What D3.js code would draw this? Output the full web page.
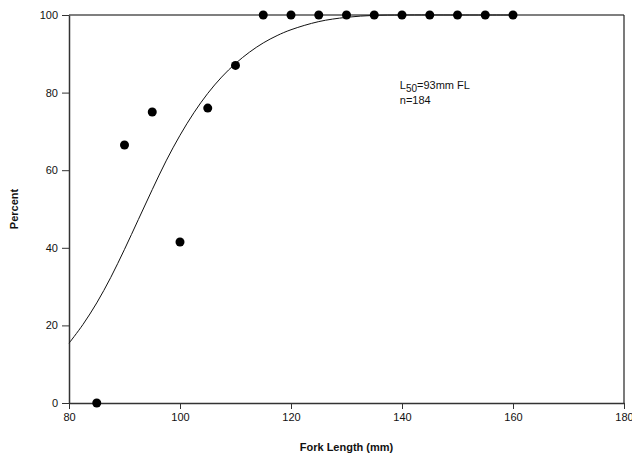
<!DOCTYPE html>
<html>
<head>
<meta charset="utf-8">
<script src="https://cdn.jsdelivr.net/npm/d3@7"></script>
<style>
  body { margin: 0; background: #fff; }
  text { font-family: Arial, "Liberation Sans", sans-serif; }
</style>
</head>
<body>
<svg class="chart"></svg>
<script>
// observed maturity by fork length
var obsLength = [85, 90, 95, 100, 105, 110, 115, 120, 125, 130, 135, 140, 145, 150, 155, 160];
var obsPercent = [0, 66.5, 75, 41.5, 76, 87, 100, 100, 100, 100, 100, 100, 100, 100, 100, 100];

// fitted curve
var fitLength = [80, 82.5, 85, 87.5, 90, 92.5, 95, 97.5, 100, 102.5, 105, 107.5, 110, 112.5, 115, 117.5, 120, 125, 130, 135, 140, 150, 160];
var fitPercent = [15.4, 20.2, 25.8, 32.3, 39.6, 47.3, 55, 62.4, 69, 74.8, 79.8, 84, 87.5, 90.4, 92.8, 94.7, 96.2, 98.3, 99.4, 99.9, 100, 100, 100];

var xTicks = [80, 100, 120, 140, 160, 180];
var yTicks = [0, 20, 40, 60, 80, 100];

(function show() {
    'use strict';

    var margin = { top: 15, bottom: 59, right: 8, left: 69 },
        width = 632 - margin.left - margin.right,
        height = 462 - margin.top - margin.bottom;

    var svg = d3.select(".chart")
        .attr("width", 632)
        .attr("height", 462);

    var chart = svg.append("g")
        .attr("transform", "translate(" + margin.left + "," + margin.top + ")");

    var x = d3.scaleLinear().domain([80, 180]).range([0, width]);
    var y = d3.scaleLinear().domain([0, 100]).range([height, 0]);

    // frame
    chart.append("line").attr("x1", 0).attr("x2", width).attr("y1", 0).attr("y2", 0)
        .attr("stroke", "#555").attr("stroke-width", 1.5);
    chart.append("line").attr("x1", width).attr("x2", width).attr("y1", 0).attr("y2", height)
        .attr("stroke", "#222").attr("stroke-width", 1.2);

    var xAxis = chart.append("g")
        .attr("transform", "translate(0," + height + ")")
        .call(d3.axisBottom(x).tickValues(xTicks).tickSize(6).tickPadding(4).tickSizeOuter(0));

    var yAxis = chart.append("g")
        .call(d3.axisLeft(y).tickValues(yTicks).tickSize(7).tickPadding(4).tickSizeOuter(0));

    [xAxis, yAxis].forEach(function(a) {
        a.select(".domain").attr("stroke", "#333").attr("stroke-width", 1.5);
        a.selectAll(".tick line").attr("stroke", "#333");
        a.selectAll(".tick text")
            .attr("font-size", 11)
            .attr("font-family", "Arial, 'Liberation Sans', sans-serif")
            .attr("fill", "#111");
    });

    // fitted curve
    var fit = fitLength.map(function(d, i) { return { x: d, y: fitPercent[i] }; });
    chart.append("path")
        .datum(fit)
        .attr("fill", "none")
        .attr("stroke", "#111")
        .attr("stroke-width", 1)
        .attr("d", d3.line()
            .x(function(d) { return x(d.x); })
            .y(function(d) { return y(d.y); })
            .curve(d3.curveCatmullRom));

    // observed points
    var obs = obsLength.map(function(d, i) { return { x: d, y: obsPercent[i] }; });
    chart.selectAll("circle.obs").data(obs)
        .enter().append("circle")
        .attr("class", "obs")
        .attr("cx", function(d) { return x(d.x); })
        .attr("cy", function(d) { return y(d.y); })
        .attr("r", 4.5)
        .attr("fill", "#000");

    // annotation
    var note = chart.append("text")
        .attr("x", x(139.6))
        .attr("y", y(81))
        .attr("font-size", 11)
        .attr("fill", "#111");
    note.append("tspan").text("L");
    note.append("tspan").attr("dy", 3).attr("font-size", 10).text("50");
    note.append("tspan").attr("dy", -3).text("=93mm FL");

    chart.append("text")
        .attr("x", x(139.6))
        .attr("y", y(77))
        .attr("font-size", 11)
        .attr("fill", "#111")
        .text("n=184");

    // axis titles
    svg.append("text")
        .attr("x", margin.left + width / 2)
        .attr("y", 451)
        .attr("text-anchor", "middle")
        .attr("font-size", 11)
        .attr("font-weight", "bold")
        .attr("fill", "#111")
        .text("Fork Length (mm)");

    svg.append("text")
        .attr("transform", "translate(18," + (margin.top + height / 2) + ") rotate(-90)")
        .attr("text-anchor", "middle")
        .attr("font-size", 11)
        .attr("font-weight", "bold")
        .attr("fill", "#111")
        .text("Percent");
})();
</script>
</body>
</html>
